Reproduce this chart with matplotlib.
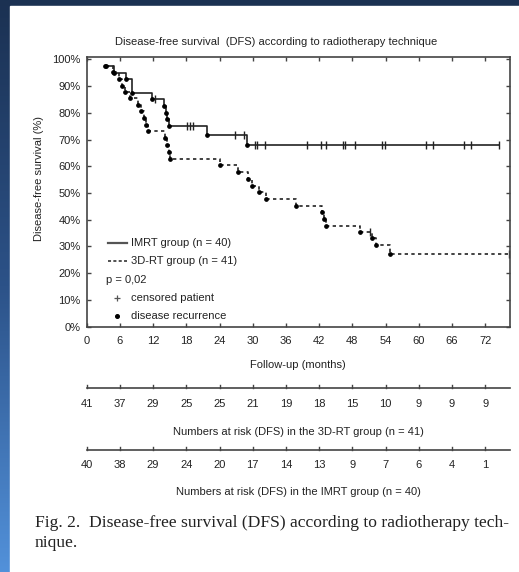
import matplotlib
matplotlib.use('Agg')

import matplotlib.pyplot as plt
import numpy as np
from matplotlib import transforms
from matplotlib.colors import LinearSegmentedColormap
from matplotlib.lines import Line2D
from matplotlib.patches import Rectangle

# ---- data ----
# IMRT group: event times (months) and survival (%) after each step
imrt_t = [3.3, 4.9, 7.1, 8.1, 11.8, 13.9, 14.3, 14.6, 14.9, 21.7, 29.0]
imrt_s = [97.5, 95.0, 92.5, 87.5, 85.0, 82.5, 80.0, 77.5, 75.0, 71.6, 67.9]
imrt_end = 74.5
imrt_cens_t = [12.4, 18.2, 18.7, 19.2, 26.8, 28.4, 30.4, 30.8, 32.3, 39.8,
               42.3, 43.3, 46.3, 46.6, 48.4, 53.3, 53.9, 61.3, 62.5, 68.1,
               69.5, 74.5]
imrt_cens_s = [85.0, 75.0, 75.0, 75.0, 71.6, 71.6, 67.9, 67.9, 67.9, 67.9,
               67.9, 67.9, 67.9, 67.9, 67.9, 67.9, 67.9, 67.9, 67.9, 67.9,
               67.9, 67.9]

# 3D-RT group
rt_t = [3.4, 4.8, 5.9, 6.3, 6.9, 7.8, 9.3, 9.9, 10.4, 10.8, 11.1, 14.2,
        14.5, 14.8, 15.1, 24.1, 27.4, 29.2, 29.8, 31.2, 32.4, 37.8, 42.5,
        42.8, 43.2, 49.4, 51.6, 52.2, 54.8]
rt_s = [97.6, 95.1, 92.7, 90.2, 87.8, 85.4, 82.9, 80.5, 78.0, 75.6, 73.2,
        70.6, 68.0, 65.4, 62.8, 60.3, 57.8, 55.3, 52.8, 50.3, 47.8, 45.3,
        42.8, 40.3, 37.8, 35.3, 33.0, 30.5, 27.2]
rt_end = 76.4
rt_cens_t = [51.2, 76.4]
rt_cens_s = [35.3, 27.2]

risk_months = [0, 6, 12, 18, 24, 30, 36, 42, 48, 54, 60, 66, 72]
risk_3drt = [41, 37, 29, 25, 25, 21, 19, 18, 15, 10, 9, 9, 9]
risk_imrt = [40, 38, 29, 24, 20, 17, 14, 13, 9, 7, 6, 4, 1]

yticks = [0, 10, 20, 30, 40, 50, 60, 70, 80, 90, 100]

W, H = 519, 572
FONT = ['Liberation Sans Narrow', 'Liberation Sans', 'DejaVu Sans']
FS = 8
INK = '#222222'


def fx(px):
    return px / W


def fy(py):
    return 1 - py / H


plt.rcParams['font.family'] = FONT
fig = plt.figure(figsize=(W / 100, H / 100), dpi=100)

# blue slide background with white page on it
bg = fig.add_axes([0, 0, 1, 1])
cmap = LinearSegmentedColormap.from_list('slide', ['#1b3152', '#2c5288', '#5291da'])
bg.imshow(np.linspace(0, 1, 256).reshape(-1, 1), aspect='auto', cmap=cmap,
          extent=[0, 1, 0, 1], origin='upper')
bg.add_patch(Rectangle((fx(10), 0), 1 - fx(10), fy(6), color='white',
                       transform=bg.transAxes))
bg.set_xlim(0, 1)
bg.set_ylim(0, 1)
bg.axis('off')

ax = fig.add_axes([fx(86.7), fy(326.7), fx(510) - fx(86.7), fy(57.3) - fy(326.7)])
ax.set_xlim(0, 76.5)
ax.set_ylim(0, 100.75)


def km(t, s, t_end, ls):
    ax.plot(t + [t_end], s + [s[-1]], drawstyle='steps-post', color=INK,
            linewidth=1.2, linestyle=ls)
    ax.plot(t, s, 'o', color='black', markersize=2.4)


km(imrt_t, imrt_s, imrt_end, '-')
km(rt_t, rt_s, rt_end, (0, (2, 2)))
ax.plot(imrt_cens_t, imrt_cens_s, '|', color=INK, markersize=6, markeredgewidth=1)
ax.plot(rt_cens_t, rt_cens_s, '|', color=INK, markersize=6, markeredgewidth=1)

ax.set_xticks(risk_months)
ax.set_xticklabels([str(m) for m in risk_months])
ax.set_yticks(yticks)
ax.set_yticklabels([f'{v}%' for v in yticks])
ax.tick_params(direction='in', top=True, right=True, length=3, width=1,
               color='#444444', labelsize=FS, labelcolor=INK)
ax.tick_params(axis='x', pad=7)
ax.tick_params(axis='y', pad=4.5)
for sp in ax.spines.values():
    sp.set_color('#444444')
    sp.set_linewidth(1.2)

# titles
fig.text(fx(276), fy(42), 'Disease-free survival  (DFS) according to radiotherapy technique',
         ha='center', va='center', fontsize=FS, color=INK)
fig.text(fx(39), fy(178), 'Disease-free survival (%)', rotation=90,
         ha='center', va='center', fontsize=FS, color=INK)
fig.text(fx(298), fy(365), 'Follow-up (months)', ha='center', va='center',
         fontsize=FS, color=INK)

# legend drawn by hand
fig.add_artist(Line2D([fx(108), fx(127)], [fy(243), fy(243)], color='#555555', linewidth=1.6))
fig.add_artist(Line2D([fx(108), fx(127)], [fy(261), fy(261)], color=INK,
                      linewidth=1.1, linestyle=(0, (2, 1.5))))
fig.add_artist(Line2D([fx(116.7)], [fy(298)], marker='+', color='#555555',
                      markersize=4, markeredgewidth=0.9))
fig.add_artist(Line2D([fx(116.7)], [fy(316)], marker='o', color='black',
                      markersize=2.6))
leg_items = [(243, 'IMRT group (n = 40)', 130.7), (261, '3D-RT group (n = 41)', 130.7),
             (280, 'p = 0,02', 106), (298, 'censored patient', 130.7),
             (316, 'disease recurrence', 130.7)]
for y, txt, x in leg_items:
    fig.text(fx(x), fy(y), txt, ha='left', va='center', fontsize=FS, color=INK)

# numbers at risk rows
tr = transforms.blended_transform_factory(ax.transData, fig.transFigure)
for line_y, num_y, lab_y, counts, label in [
        (388, 404, 432, risk_3drt, 'Numbers at risk (DFS) in the 3D-RT group (n = 41)'),
        (450, 465, 492, risk_imrt, 'Numbers at risk (DFS) in the IMRT group (n = 40)')]:
    ax.plot([0, 76.5], [fy(line_y), fy(line_y)], transform=tr, clip_on=False,
            color='#444444', linewidth=1.2)
    for m, c in zip(risk_months, counts):
        ax.plot([m, m], [fy(line_y), fy(line_y - 3)], transform=tr, clip_on=False,
                color='#444444', linewidth=1)
        ax.text(m, fy(num_y), str(c), transform=tr, ha='center', va='center',
                fontsize=FS, color=INK)
    fig.text(fx(298), fy(lab_y), label, ha='center', va='center', fontsize=FS,
             color=INK)

# caption
cap_font = ['Liberation Serif', 'DejaVu Serif']
fig.text(fx(35), fy(523), 'Fig. 2.  Disease-free survival (DFS) according to radiotherapy tech-',
         ha='left', va='center', fontsize=12.6, color=INK, family=cap_font)
fig.text(fx(35), fy(543), 'nique.', ha='left', va='center', fontsize=12.6,
         color=INK, family=cap_font)

fig.savefig('out.png', dpi=100)
